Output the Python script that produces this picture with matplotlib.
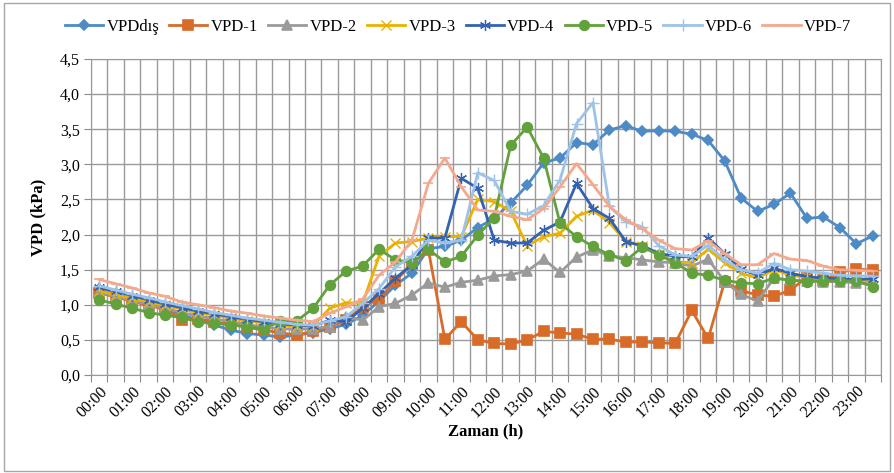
import numpy as np
import matplotlib.pyplot as plt
from matplotlib.patches import Rectangle

plt.rcParams['font.family'] = ['Liberation Serif', 'DejaVu Serif']

# half-hour steps, 00:00 ... 23:30
times = ['%02d:%02d' % (h, m) for h in range(24) for m in (0, 30)]

vpd_dis = [1.22, 1.15, 1.08, 1.01, 0.94, 0.86, 0.78, 0.71, 0.64, 0.59,
           0.57, 0.54, 0.57, 0.60, 0.66, 0.72, 0.85, 1.05, 1.28, 1.45,
           1.80, 1.83, 1.92, 2.10, 2.23, 2.45, 2.70, 3.02, 3.09, 3.31,
           3.28, 3.49, 3.55, 3.47, 3.48, 3.47, 3.43, 3.34, 3.05, 2.52,
           2.33, 2.43, 2.59, 2.23, 2.25, 2.10, 1.87, 1.98]
vpd_1 = [1.17, 1.11, 1.05, 0.99, 0.94, 0.79, 0.80, 0.76, 0.72, 0.68,
         0.64, 0.60, 0.57, 0.62, 0.69, 0.78, 0.97, 1.08, 1.34, 1.58,
         1.78, 0.51, 0.76, 0.50, 0.45, 0.44, 0.50, 0.62, 0.60, 0.58,
         0.51, 0.51, 0.47, 0.47, 0.46, 0.45, 0.92, 0.52, 1.33, 1.20,
         1.14, 1.12, 1.21, 1.39, 1.35, 1.46, 1.51, 1.49]
vpd_2 = [1.18, 1.12, 1.06, 1.01, 0.95, 0.89, 0.84, 0.80, 0.76, 0.72,
         0.68, 0.66, 0.65, 0.66, 0.69, 0.83, 0.78, 0.97, 1.02, 1.14,
         1.31, 1.25, 1.32, 1.35, 1.41, 1.43, 1.48, 1.65, 1.46, 1.68,
         1.78, 1.70, 1.67, 1.64, 1.61, 1.60, 1.55, 1.65, 1.33, 1.15,
         1.05, 1.38, 1.35, 1.34, 1.33, 1.33, 1.31, 1.30]
vpd_3 = [1.20, 1.14, 1.09, 1.04, 0.99, 0.94, 0.89, 0.85, 0.81, 0.77,
         0.74, 0.71, 0.69, 0.70, 0.95, 1.03, 1.02, 1.69, 1.88, 1.90,
         1.95, 1.97, 1.97, 2.50, 2.47, 2.33, 1.84, 1.97, 2.02, 2.26,
         2.35, 2.17, 1.90, 1.84, 1.72, 1.61, 1.60, 1.79, 1.60, 1.45,
         1.38, 1.50, 1.42, 1.39, 1.37, 1.36, 1.35, 1.34]
vpd_4 = [1.25, 1.19, 1.13, 1.07, 1.01, 0.96, 0.91, 0.87, 0.83, 0.79,
         0.76, 0.73, 0.71, 0.70, 0.78, 0.76, 0.95, 1.16, 1.38, 1.57,
         1.95, 1.95, 2.80, 2.66, 1.92, 1.88, 1.88, 2.06, 2.18, 2.73,
         2.37, 2.23, 1.90, 1.84, 1.73, 1.69, 1.68, 1.95, 1.73, 1.51,
         1.42, 1.52, 1.45, 1.40, 1.38, 1.37, 1.36, 1.37]
vpd_5 = [1.07, 1.01, 0.95, 0.89, 0.85, 0.82, 0.76, 0.74, 0.71, 0.69,
         0.66, 0.77, 0.77, 0.95, 1.28, 1.48, 1.55, 1.79, 1.64, 1.60,
         1.79, 1.61, 1.69, 1.99, 2.24, 3.27, 3.53, 3.09, 2.16, 1.97,
         1.83, 1.71, 1.63, 1.82, 1.71, 1.60, 1.45, 1.42, 1.35, 1.31,
         1.30, 1.38, 1.35, 1.33, 1.34, 1.34, 1.34, 1.26]
vpd_6 = [1.27, 1.21, 1.15, 1.10, 1.04, 0.99, 0.94, 0.89, 0.85, 0.81,
         0.78, 0.75, 0.72, 0.71, 0.77, 0.83, 1.02, 1.23, 1.54, 1.69,
         1.92, 1.88, 1.92, 2.88, 2.77, 2.33, 2.29, 2.41, 2.78, 3.58,
         3.88, 2.40, 2.18, 2.11, 1.84, 1.71, 1.69, 1.85, 1.64, 1.50,
         1.45, 1.59, 1.50, 1.48, 1.45, 1.42, 1.41, 1.41]
vpd_7 = [1.36, 1.30, 1.24, 1.17, 1.12, 1.04, 1.00, 0.96, 0.91, 0.88,
         0.84, 0.81, 0.78, 0.76, 0.88, 0.97, 1.08, 1.42, 1.61, 1.92,
         2.73, 3.09, 2.68, 2.35, 2.33, 2.26, 2.21, 2.37, 2.68, 3.01,
         2.71, 2.40, 2.21, 2.08, 1.92, 1.80, 1.78, 1.91, 1.73, 1.57,
         1.57, 1.73, 1.65, 1.63, 1.55, 1.50, 1.49, 1.48]

series = [
    ('VPDdış', vpd_dis, '#4E8AC6', 'D', 5, 1.2),
    ('VPD-1', vpd_1, '#D86B28', 's', 7, 1.2),
    ('VPD-2', vpd_2, '#9A9A9A', '^', 7, 1.2),
    ('VPD-3', vpd_3, '#EAB200', 'x', 7, 1.0),
    ('VPD-4', vpd_4, '#3461B0', (6, 2, 0), 8, 0.9),
    ('VPD-5', vpd_5, '#62A13C', 'o', 7, 1.2),
    ('VPD-6', vpd_6, '#9EC3E8', '+', 9, 1.0),
    ('VPD-7', vpd_7, '#F4A88C', '_', 7, 1.2),
]

fig = plt.figure(figsize=(8.94, 4.73), dpi=100)
ax = fig.add_axes([91/894, 1-375/473, 790/894, 316/473])

x = np.arange(len(times))
for name, vals, col, mk, ms, mw in series:
    ax.plot(x, vals, color=col, lw=2.0, marker=mk, ms=ms, mew=mw,
            mfc=col, mec=col, label=name)

ax.set_xlim(-0.5, len(times) - 0.5)
ax.set_ylim(0, 4.5)
ax.set_yticks(np.arange(0, 4.51, 0.5))
ax.set_yticklabels([('%.1f' % v).replace('.', ',') for v in np.arange(0, 4.51, 0.5)],
                   fontsize=11.5)

# category boundaries carry the grid, labels sit on every whole hour
ax.set_xticks(np.arange(-0.5, len(times), 1.0))
ax.set_xticklabels([])
ax.set_xticks(x[::2], minor=True)
ax.set_xticklabels(times[::2], minor=True, rotation=45, ha='right',
                   rotation_mode='anchor', fontsize=11.5)
ax.tick_params(axis='x', which='minor', length=0, pad=6)
ax.tick_params(axis='x', which='major', length=5, color='#8C8C8C')
ax.tick_params(axis='y', length=5, color='#8C8C8C', pad=3)

ax.grid(True, which='major', color='#9A9A9A', lw=1.0)
ax.set_axisbelow(True)
for s in ax.spines.values():
    s.set_color('#9A9A9A')

ax.set_xlabel('Zaman (h)', fontsize=12, fontweight='bold', labelpad=2)
ax.set_ylabel('VPD (kPa)', fontsize=12, fontweight='bold', labelpad=10)

fig.legend(loc='center', bbox_to_anchor=(458/894, 1-27/473), ncol=8,
           frameon=False, fontsize=12, handlelength=2.3, columnspacing=0.6,
           handletextpad=0.2)

fig.patches.append(Rectangle((0.004, 0.004), 0.992, 0.99, transform=fig.transFigure,
                             fill=False, ec='#A6A6A6', lw=1.0))

fig.savefig('out.png', dpi=100)
